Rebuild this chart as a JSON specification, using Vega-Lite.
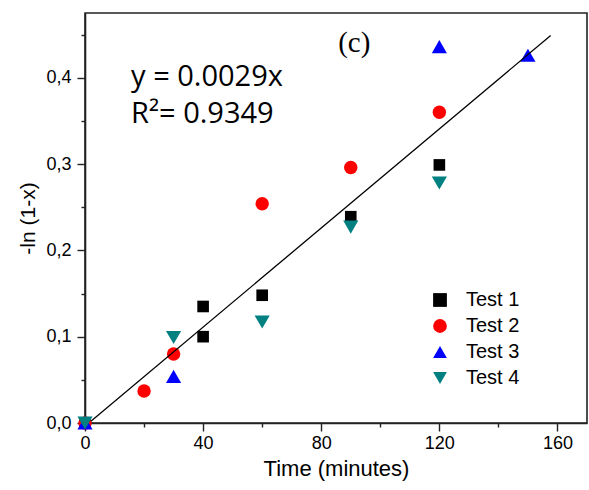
{
  "$schema": "https://vega.github.io/schema/vega-lite/v6.json",
  "width": 502,
  "height": 410,
  "autosize": "none",
  "padding": {"left": 85, "top": 13, "right": 2, "bottom": 67},
  "background": "white",
  "config": {
    "view": {"stroke": "#222222", "strokeWidth": 1.6},
    "axis": {
      "grid": false,
      "domainColor": "#222222",
      "domainWidth": 1.6,
      "tickColor": "#222222",
      "tickWidth": 1.4,
      "labelColor": "black",
      "titleColor": "black",
      "labelFont": "Liberation Sans",
      "titleFont": "Liberation Sans",
      "titleFontWeight": "normal",
      "labelFontSize": 18
    }
  },
  "datasets": {
    "points": [
      {"test": "Test 1", "t": 0, "v": 0},
      {"test": "Test 1", "t": 40, "v": 0.135},
      {"test": "Test 1", "t": 40, "v": 0.100},
      {"test": "Test 1", "t": 60, "v": 0.148},
      {"test": "Test 1", "t": 90, "v": 0.239},
      {"test": "Test 1", "t": 120, "v": 0.299},
      {"test": "Test 2", "t": 0, "v": 0},
      {"test": "Test 2", "t": 20, "v": 0.037},
      {"test": "Test 2", "t": 30, "v": 0.080},
      {"test": "Test 2", "t": 60, "v": 0.254},
      {"test": "Test 2", "t": 90, "v": 0.296},
      {"test": "Test 2", "t": 120, "v": 0.360},
      {"test": "Test 3", "t": 0, "v": 0},
      {"test": "Test 3", "t": 30, "v": 0.054},
      {"test": "Test 3", "t": 120, "v": 0.436},
      {"test": "Test 3", "t": 150, "v": 0.426},
      {"test": "Test 4", "t": 0, "v": 0},
      {"test": "Test 4", "t": 30, "v": 0.099},
      {"test": "Test 4", "t": 60, "v": 0.117},
      {"test": "Test 4", "t": 90, "v": 0.227},
      {"test": "Test 4", "t": 120, "v": 0.278}
    ],
    "fit": [
      {"t": 2.0, "v": 0.002},
      {"t": 157.7, "v": 0.449}
    ],
    "notes": [
      {"label": "y = 0.0029x", "t": 15.6, "v": 0.39},
      {"label": "R²= 0.9349", "t": 15.6, "v": 0.3475}
    ],
    "panel": [
      {"label": "(c)", "t": 91.2, "v": 0.43}
    ]
  },
  "layer": [
    {
      "data": {"name": "points"},
      "mark": {"type": "point", "filled": true, "opacity": 1, "strokeWidth": 0},
      "encoding": {
        "x": {
          "field": "t", "type": "quantitative",
          "scale": {"domain": [0, 170], "nice": false, "zero": false},
          "axis": {
            "orient": "bottom",
            "title": "Time (minutes)",
            "titleFontSize": 22,
            "titlePadding": 6,
            "values": [0, 20, 40, 60, 80, 100, 120, 140, 160],
            "labelExpr": "datum.value % 40 === 0 ? datum.label : ''",
            "labelFlush": false,
            "labelOverlap": false,
            "labelPadding": 3,
            "tickSize": {"condition": {"test": "datum.value % 40 === 0", "value": 8}, "value": 4}
          }
        },
        "y": {
          "field": "v", "type": "quantitative",
          "scale": {"domain": [0, 0.475], "nice": false, "zero": false},
          "axis": {
            "orient": "left",
            "title": "-ln (1-x)",
            "titleFontSize": 21,
            "titlePadding": 7,
            "values": [0, 0.05, 0.1, 0.15, 0.2, 0.25, 0.3, 0.35, 0.4, 0.45],
            "labelExpr": "round(datum.value * 100) % 10 === 0 ? replace(format(datum.value, '.1f'), '.', ',') : ''",
            "labelFlush": false,
            "labelOverlap": false,
            "labelPadding": 6,
            "tickSize": {"condition": {"test": "round(datum.value * 100) % 10 === 0", "value": 8}, "value": 4}
          }
        },
        "shape": {
          "field": "test", "type": "nominal",
          "scale": {"domain": ["Test 1", "Test 2", "Test 3", "Test 4"], "range": ["square", "circle", "triangle-up", "triangle-down"]},
          "legend": {
            "title": null,
            "orient": "none",
            "legendX": 345,
            "legendY": 277,
            "labelFont": "Liberation Sans",
            "labelFontSize": 20,
            "labelColor": "black",
            "symbolSize": 190,
            "symbolStrokeWidth": 0,
            "labelOffset": 16,
            "rowPadding": 6
          }
        },
        "color": {
          "field": "test", "type": "nominal",
          "scale": {"domain": ["Test 1", "Test 2", "Test 3", "Test 4"], "range": ["#000000", "#ff0000", "#0000ff", "#008080"]},
          "legend": {
            "title": null,
            "orient": "none",
            "legendX": 345,
            "legendY": 277,
            "labelFont": "Liberation Sans",
            "labelFontSize": 20,
            "labelColor": "black",
            "symbolSize": 190,
            "symbolStrokeWidth": 0,
            "labelOffset": 16,
            "rowPadding": 6
          }
        },
        "size": {
          "condition": [
            {"test": "datum.test === 'Test 3' || datum.test === 'Test 4'", "value": 230},
            {"test": "datum.test === 'Test 2'", "value": 180}
          ],
          "value": 135
        }
      }
    },
    {
      "data": {"name": "fit"},
      "mark": {"type": "line", "color": "black", "strokeWidth": 1.3},
      "encoding": {
        "x": {"field": "t", "type": "quantitative"},
        "y": {"field": "v", "type": "quantitative"}
      }
    },
    {
      "data": {"name": "notes"},
      "mark": {"type": "text", "font": "Open Sans", "fontSize": 29, "align": "left", "baseline": "alphabetic", "color": "black"},
      "encoding": {
        "x": {"field": "t", "type": "quantitative"},
        "y": {"field": "v", "type": "quantitative"},
        "text": {"field": "label"}
      }
    },
    {
      "data": {"name": "panel"},
      "mark": {"type": "text", "font": "Liberation Serif", "fontSize": 29, "align": "center", "baseline": "alphabetic", "color": "black"},
      "encoding": {
        "x": {"field": "t", "type": "quantitative"},
        "y": {"field": "v", "type": "quantitative"},
        "text": {"field": "label"}
      }
    }
  ]
}
